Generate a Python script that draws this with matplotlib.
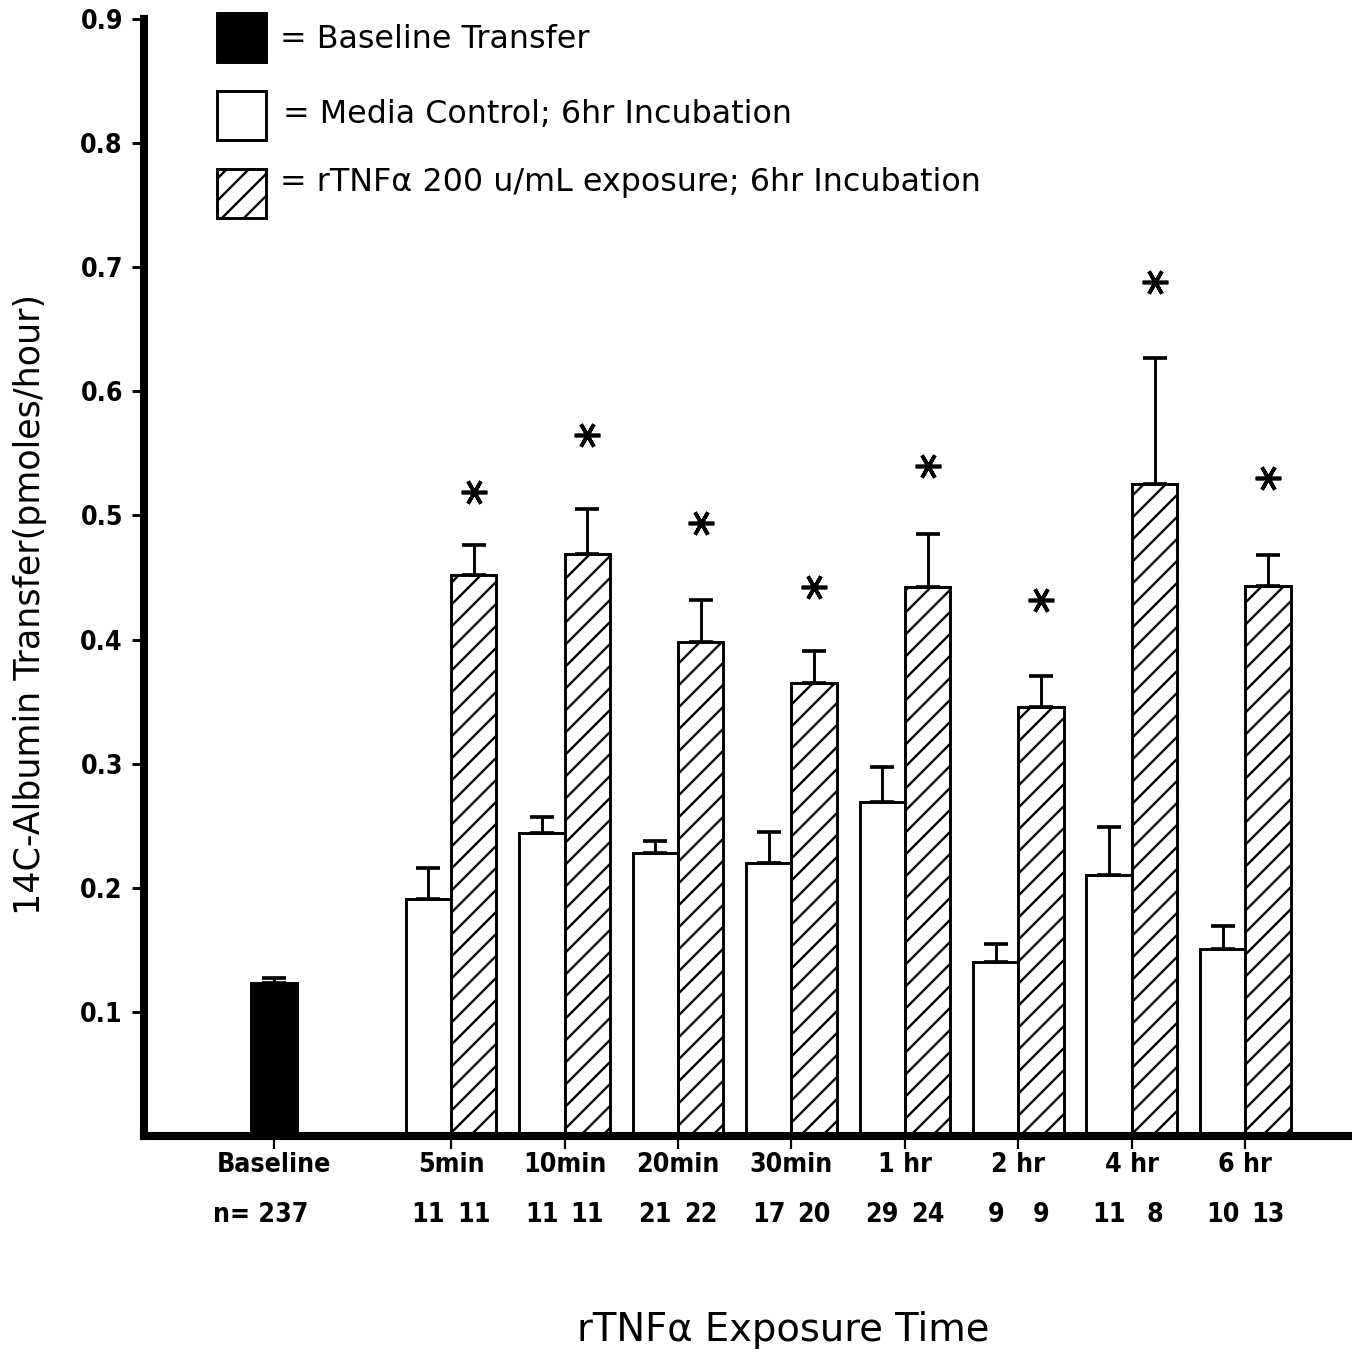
import numpy as np
import matplotlib
matplotlib.use("Agg")
import matplotlib.pyplot as plt
from matplotlib.patches import Rectangle

# 14C-albumin transfer across monolayers, mean + SEM (upper bar only)
groups = ["5min", "10min", "20min", "30min", "1 hr", "2 hr", "4 hr", "6 hr"]

baseline_mean = 0.123
baseline_err = 0.004
baseline_n = 237

media_mean = [0.191, 0.244, 0.228, 0.220, 0.269, 0.140, 0.210, 0.151]
media_err = [0.025, 0.013, 0.010, 0.025, 0.028, 0.015, 0.039, 0.018]
media_n = [11, 11, 21, 17, 29, 9, 11, 10]

tnf_mean = [0.452, 0.469, 0.398, 0.365, 0.442, 0.346, 0.525, 0.443]
tnf_err = [0.024, 0.036, 0.034, 0.026, 0.043, 0.025, 0.102, 0.025]
tnf_n = [11, 11, 22, 20, 24, 9, 8, 13]

# significance markers above the rTNF bars
star_y = [0.519, 0.565, 0.494, 0.442, 0.540, 0.432, 0.688, 0.530]

DPI = 132
plt.rcParams["hatch.linewidth"] = 1.3
num_font = dict(family=["DejaVu Sans"], stretch="condensed", fontsize=14.5, fontweight="semibold")

fig = plt.figure(figsize=(1352 / DPI, 1355 / DPI), dpi=DPI)
ax = fig.add_axes([144 / 1352, 1 - 1136 / 1355, 1 - 144 / 1352, (1136 - 19) / 1355])

w = 0.4
base_x = 0.0
gx = 1.56 + np.arange(len(groups))

err_kw = dict(fmt="none", ecolor="black", elinewidth=1.6, capsize=6.5, capthick=2.0)

ax.bar(base_x, baseline_mean, w, color="black", edgecolor="black", lw=1.6, zorder=2)
ax.errorbar(base_x, baseline_mean, yerr=[[0], [baseline_err]], zorder=1, **err_kw)

ax.bar(gx - w / 2, media_mean, w, color="white", edgecolor="black", lw=1.6, zorder=2)
ax.errorbar(gx - w / 2, media_mean, yerr=[np.zeros(len(groups)), media_err], zorder=1, **err_kw)

ax.bar(gx + w / 2, tnf_mean, w, color="white", edgecolor="black", hatch="//", lw=1.6, zorder=2)
ax.errorbar(gx + w / 2, tnf_mean, yerr=[np.zeros(len(groups)), tnf_err], zorder=1, **err_kw)

ax.plot(gx + w / 2, star_y, ls="none", marker=(6, 2, 90), ms=14, mew=2.0, color="black")

ax.set_xlim(-1.146, 9.50)
ax.set_ylim(0, 0.9)

for side in ("top", "right"):
    ax.spines[side].set_visible(False)
for side in ("left", "bottom"):
    ax.spines[side].set_linewidth(4.4)

yt = np.arange(1, 10) / 10
ax.set_yticks(yt)
ax.set_yticklabels([f"{v:.1f}" for v in yt], **num_font)
ax.tick_params(axis="y", direction="out", length=6.5, width=1.6, pad=5)

ax.set_xticks(np.concatenate([[base_x], gx]))
ax.set_xticklabels(["Baseline"] + groups, **num_font)
ax.tick_params(axis="x", direction="out", length=7, width=1.2, pad=2)

# n per bar, under the category names
xt = ax.get_xaxis_transform()
n_y = -0.0707
ax.text(base_x - 0.12, n_y, f"n= {baseline_n}", transform=xt, ha="center", va="center", **num_font)
for x, nm, nt in zip(gx, media_n, tnf_n):
    ax.text(x - w / 2, n_y, str(nm), transform=xt, ha="center", va="center", **num_font)
    ax.text(x + w / 2, n_y, str(nt), transform=xt, ha="center", va="center", **num_font)

# legend boxes drawn by hand
sq_w, sq_h = 49 / 1208, 49 / 1117
legend_items = [
    (0.9615, dict(facecolor="black"), "= Baseline Transfer", 0.1126, 0.9812),
    (0.8917, dict(facecolor="white"), "= Media Control; 6hr Incubation", 0.1151, 0.9141),
    (0.8218, dict(facecolor="white", hatch="//"), "= rTNF\u03b1 200 u/mL exposure; 6hr Incubation", 0.1126, 0.8532),
]
for y0, style, text, tx, ty in legend_items:
    ax.add_patch(Rectangle((0.0604, y0), sq_w, sq_h, transform=ax.transAxes, edgecolor="black",
                           lw=1.6, clip_on=False, **style))
    ax.text(tx, ty, text, transform=ax.transAxes, ha="left", va="center",
            family=["DejaVu Sans"], fontsize=17.3)

fig.text(783 / 1352, 1 - 1330 / 1355, "rTNF\u03b1 Exposure Time", ha="center", va="center",
         family=["DejaVu Sans"], fontsize=21)
fig.text(30 / 1352, 1 - 605 / 1355, "14C-Albumin Transfer(pmoles/hour)", rotation=90,
         ha="center", va="center", family=["DejaVu Sans"], fontsize=19)

fig.savefig("out.png", dpi=DPI)
